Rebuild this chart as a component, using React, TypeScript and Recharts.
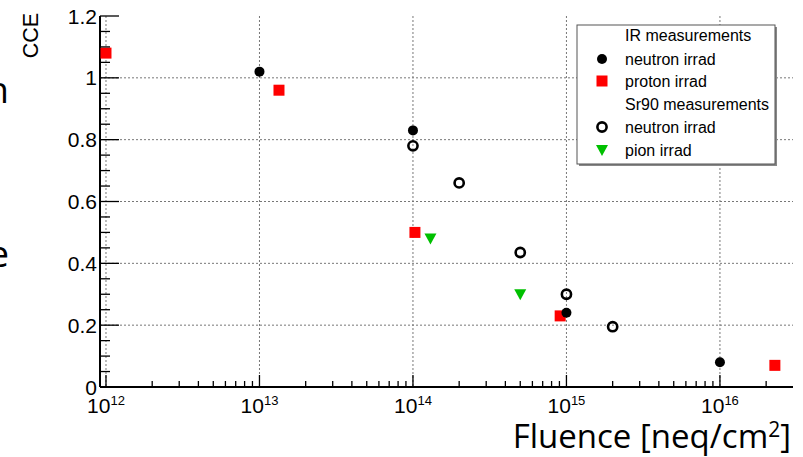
import { ScatterChart, Scatter, XAxis, YAxis, CartesianGrid } from "recharts";

// IR measurements
const irNeutronX = [1e13, 1e14, 1e15, 1e16];
const irNeutronY = [1.02, 0.83, 0.24, 0.08];
const irProtonX = [1e12, 1.34e13, 1.03e14, 9.1e14, 2.28e16];
const irProtonY = [1.08, 0.96, 0.5, 0.23, 0.07];

// Sr90 measurements
const srNeutronX = [1e14, 2e14, 5e14, 1e15, 2e15];
const srNeutronY = [0.78, 0.66, 0.435, 0.3, 0.195];
const pionX = [1.3e14, 5e14];
const pionY = [0.48, 0.3];

const xMajor = [1e12, 1e13, 1e14, 1e15, 1e16];
const xExp = ["12", "13", "14", "15", "16"];
const yMajor = [0, 0.2, 0.4, 0.6, 0.8, 1, 1.2];
const yLabels = ["0", "0.2", "0.4", "0.6", "0.8", "1", "1.2"];

const X_DOMAIN = [Math.pow(10, 11.961), Math.pow(10, 16.476)];
const Y_DOMAIN = [0, 1.2];

const xTicks: number[] = [];
for (let e = 12; e <= 16; e++) {
  for (let k = 1; k <= 9; k++) {
    const v = k * Math.pow(10, e);
    if (v <= X_DOMAIN[1]) xTicks.push(v);
  }
}
const yTicks: number[] = [];
for (let i = 0; i <= 24; i++) yTicks.push(Math.round(i * 5) / 100);

const pairs = (xs: number[], ys: number[]) => xs.map((x, i) => ({ x, y: ys[i] }));

const FONT = "'Liberation Sans', Arial, sans-serif";
const RED = "#ff0000";
const GREEN = "#00c000";

const isXMajor = (v: number) => xMajor.findIndex((m) => Math.abs(v / m - 1) < 1e-6);
const isYMajor = (v: number) => yMajor.findIndex((m) => Math.abs(v - m) < 1e-6);

function BottomTick(props: any) {
  const { x, y, payload } = props;
  const idx = isXMajor(payload.value);
  return (
    <g>
      <line x1={x} x2={x} y1={y} y2={y - (idx >= 0 ? 12 : 6)} stroke="#000" strokeWidth={1.3} />
      {idx >= 0 && (
        <text x={x} y={y + 26} textAnchor="middle" fontFamily={FONT} fontSize={21} fill="#000">
          10
          <tspan dy={-8} fontSize={13}>
            {xExp[idx]}
          </tspan>
        </text>
      )}
    </g>
  );
}

function TopTick(props: any) {
  const { x, y, payload } = props;
  const idx = isXMajor(payload.value);
  return <line x1={x} x2={x} y1={y} y2={y + (idx >= 0 ? 12 : 6)} stroke="#000" strokeWidth={1.3} />;
}

function LeftTick(props: any) {
  const { x, y, payload } = props;
  const idx = isYMajor(payload.value);
  return (
    <g>
      <line x1={x} x2={x + (idx >= 0 ? 19 : 10)} y1={y} y2={y} stroke="#000" strokeWidth={1.3} />
      {idx >= 0 && (
        <text x={x - 3} y={y} dy="0.36em" textAnchor="end" fontFamily={FONT} fontSize={21} fill="#000">
          {yLabels[idx]}
        </text>
      )}
    </g>
  );
}

function RightTick(props: any) {
  const { x, y, payload } = props;
  const idx = isYMajor(payload.value);
  return <line x1={x} x2={x - (idx >= 0 ? 19 : 10)} y1={y} y2={y} stroke="#000" strokeWidth={1.3} />;
}

const FilledCircle = (p: any) => <circle cx={p.cx} cy={p.cy} r={5} fill="#000" />;
const OpenCircle = (p: any) => <circle cx={p.cx} cy={p.cy} r={4.6} fill="none" stroke="#000" strokeWidth={2.6} />;
const RedSquare = (p: any) => <rect x={p.cx - 5.5} y={p.cy - 5.5} width={11} height={11} fill={RED} />;
const DownTriangle = (p: any) => (
  <polygon points={`${p.cx - 6},${p.cy - 5} ${p.cx + 6},${p.cy - 5} ${p.cx},${p.cy + 6}`} fill={GREEN} />
);

const legendRows = [
  { label: "IR measurements", marker: null },
  { label: "neutron irrad", marker: "filled" },
  { label: "proton irrad", marker: "square" },
  { label: "Sr90 measurements", marker: null },
  { label: "neutron irrad", marker: "open" },
  { label: "pion irrad", marker: "tri" },
];
const legendY = [35, 59, 81, 104, 127, 150];

function LegendMarker({ kind, cx, cy }: { kind: string | null; cx: number; cy: number }) {
  if (kind === "filled") return <FilledCircle cx={cx} cy={cy} />;
  if (kind === "square") return <RedSquare cx={cx} cy={cy} />;
  if (kind === "open") return <OpenCircle cx={cx} cy={cy} />;
  if (kind === "tri") return <DownTriangle cx={cx} cy={cy} />;
  return null;
}

export default function App() {
  return (
    <div style={{ position: "absolute", left: 0, top: 0, width: 803, height: 457, background: "#fff" }}>
      <ScatterChart width={803} height={457} margin={{ top: 16, right: 10, bottom: 0, left: 0 }}>
        <CartesianGrid
          stroke="#777"
          strokeDasharray="2 2"
          strokeWidth={1}
          verticalValues={xMajor}
          horizontalValues={[0.2, 0.4, 0.6, 0.8, 1]}
        />
        <XAxis
          dataKey="x"
          type="number"
          scale="log"
          domain={X_DOMAIN}
          allowDataOverflow
          ticks={xTicks}
          interval={0}
          height={70}
          tickSize={0}
          tickMargin={0}
          tickLine={false}
          axisLine={{ stroke: "#000", strokeWidth: 2 }}
          tick={<BottomTick />}
        />
        <XAxis
          xAxisId="top"
          orientation="top"
          dataKey="x"
          type="number"
          scale="log"
          domain={X_DOMAIN}
          allowDataOverflow
          ticks={xTicks}
          interval={0}
          height={0}
          tickSize={0}
          tickMargin={0}
          tickLine={false}
          axisLine={{ stroke: "#000", strokeWidth: 2 }}
          tick={<TopTick />}
        />
        <YAxis
          dataKey="y"
          type="number"
          domain={Y_DOMAIN}
          allowDataOverflow
          ticks={yTicks}
          interval={0}
          width={100}
          tickSize={0}
          tickMargin={0}
          tickLine={false}
          axisLine={{ stroke: "#000", strokeWidth: 2 }}
          tick={<LeftTick />}
        />
        <YAxis
          yAxisId="right"
          orientation="right"
          dataKey="y"
          type="number"
          domain={Y_DOMAIN}
          allowDataOverflow
          ticks={yTicks}
          interval={0}
          width={0}
          tickSize={0}
          tickMargin={0}
          tickLine={false}
          axisLine={{ stroke: "#000", strokeWidth: 2 }}
          tick={<RightTick />}
        />
        <Scatter data={pairs(irProtonX, irProtonY)} shape={RedSquare} isAnimationActive={false} />
        <Scatter data={pairs(irNeutronX, irNeutronY)} shape={FilledCircle} isAnimationActive={false} />
        <Scatter data={pairs(srNeutronX, srNeutronY)} shape={OpenCircle} isAnimationActive={false} />
        <Scatter data={pairs(pionX, pionY)} shape={DownTriangle} isAnimationActive={false} />
      </ScatterChart>
      <svg
        width={803}
        height={457}
        style={{ position: "absolute", left: 0, top: 0, pointerEvents: "none" }}
      >
        <text x={9} y={103} textAnchor="end" fontFamily="'Open Sans', sans-serif" fontSize={37} fill="#000">
          n
        </text>
        <text x={9} y={267} textAnchor="end" fontFamily="'Open Sans', sans-serif" fontSize={37} fill="#000">
          e
        </text>
        <text
          x={38}
          y={35.5}
          transform="rotate(-90 38 35.5)"
          textAnchor="middle"
          fontFamily={FONT}
          fontSize={21.5}
          fill="#000"
        >
          CCE
        </text>
        <text x={791} y={448} textAnchor="end" fontFamily="'Open Sans', sans-serif" fontSize={33} fill="#000">
          Fluence [neq/cm
          <tspan dy={-11} fontSize={21}>
            2
          </tspan>
          <tspan dy={11}>]</tspan>
        </text>
        <rect x={579} y={27} width={198} height={139} fill="#888" />
        <rect x={577} y={25} width={198} height={139} fill="#fff" stroke="#555" strokeWidth={1} />
        {legendRows.map((r, i) => (
          <g key={i}>
            <LegendMarker kind={r.marker} cx={602} cy={legendY[i]} />
            <text x={625} y={legendY[i]} dy="0.36em" fontFamily={FONT} fontSize={16} fill="#000">
              {r.label}
            </text>
          </g>
        ))}
      </svg>
    </div>
  );
}
